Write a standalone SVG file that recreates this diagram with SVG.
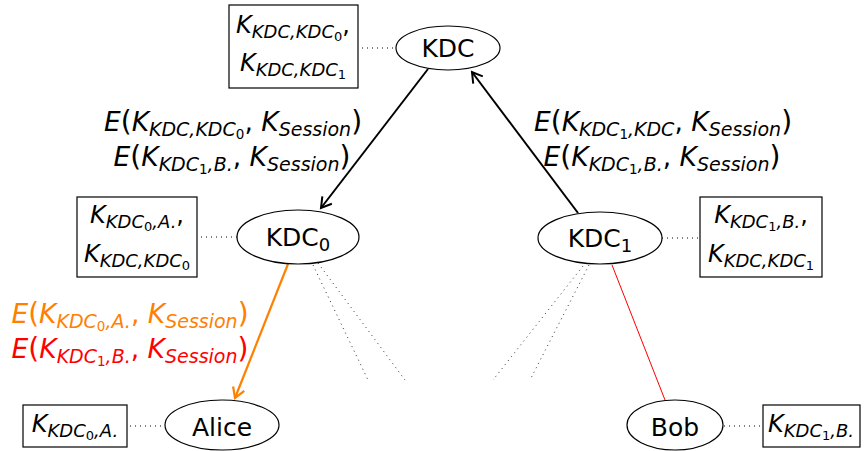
<svg xmlns="http://www.w3.org/2000/svg" width="864" height="451" viewBox="0 0 864 451">
  <style>
    text { font-family: "DejaVu Sans", "Liberation Sans", sans-serif; fill: #000; }
    .node { fill: #fff; stroke: #000; stroke-width: 1.2; }
    .box { fill: #fff; stroke: #000; stroke-width: 1.2; }
    .nl { font-size: 25px; text-anchor: middle; }
    .lbl { font-size: 26.5px; text-anchor: middle; }
    .lbl .s { font-size: 19px; }
    .lbl .ss { font-size: 13.5px; }
    .p { font-size: 28px; }
    .key { font-size: 24px; text-anchor: middle; }
    .i { font-style: italic; }
    .s { font-size: 18px; font-style: italic; }
    .ss { font-size: 13px; font-style: normal; }
    .nsub { font-size: 18px; }
    .leader { stroke: #000; stroke-width: 1; stroke-dasharray: 1 4; fill: none; }
    .hint { stroke: #333; stroke-width: 1; stroke-dasharray: 1 4; fill: none; }
    .arrow { stroke: #000; stroke-width: 2; fill: none; marker-end: url(#headBlack); }
    .arrow-orange { stroke: #ff8000; stroke-width: 2.2; fill: none; marker-end: url(#headOrange); }
    .link-red { stroke: #ff0000; stroke-width: 1; fill: none; }
    .orange { fill: #ff8000; }
    .red { fill: #ff0000; }
  </style>
  <defs>
    <marker id="headBlack" markerUnits="userSpaceOnUse" markerWidth="16" markerHeight="16" viewBox="0 0 16 16" refX="13" refY="8" orient="auto">
      <path d="M3,2 L13,8 L3,14" fill="none" stroke="#000" stroke-width="2"/>
    </marker>
    <marker id="headOrange" markerUnits="userSpaceOnUse" markerWidth="16" markerHeight="16" viewBox="0 0 16 16" refX="13" refY="8" orient="auto">
      <path d="M3,2 L13,8 L3,14" fill="none" stroke="#ff8000" stroke-width="2.2"/>
    </marker>
  </defs>

  <!-- connectors -->
  <g id="connectors">
    <!-- key holders to nodes -->
    <line class="leader" x1="362" y1="48" x2="396" y2="48"/>
    <line class="leader" x1="201" y1="237" x2="237" y2="237"/>
    <line class="leader" x1="662" y1="238" x2="698" y2="238"/>
    <line class="leader" x1="130" y1="426" x2="165" y2="426"/>
    <line class="leader" x1="724" y1="426" x2="761" y2="426"/>
    <!-- hierarchy branches -->
    <line class="arrow" x1="428" y1="69" x2="321" y2="208"/>
    <line class="arrow" x1="578" y1="213" x2="472" y2="72"/>
    <line class="arrow-orange" x1="288" y1="264" x2="235" y2="398"/>
    <line class="link-red" x1="612" y1="265" x2="665" y2="400"/>
    <!-- further subtrees -->
    <line class="hint" x1="313" y1="265" x2="368" y2="380"/>
    <line class="hint" x1="318" y1="263" x2="405" y2="380"/>
    <line class="hint" x1="583" y1="266" x2="493" y2="380"/>
    <line class="hint" x1="589" y1="265" x2="530" y2="380"/>
  </g>

  <!-- message labels -->
  <g id="labels">
    <text class="lbl" x="233" y="131"><tspan class="i">E</tspan><tspan class="p">(</tspan><tspan class="i">K</tspan><tspan class="s" dy="5">KDC,KDC</tspan><tspan class="ss" dy="3">0</tspan><tspan dy="-8">, </tspan><tspan class="i">K</tspan><tspan class="s" dy="5">Session</tspan><tspan class="p" dy="-5">)</tspan></text>
    <text class="lbl" x="232" y="166"><tspan class="i">E</tspan><tspan class="p">(</tspan><tspan class="i">K</tspan><tspan class="s" dy="5">KDC</tspan><tspan class="ss" dy="3">1</tspan><tspan class="s" dy="-3">,B.</tspan><tspan dy="-5">, </tspan><tspan class="i">K</tspan><tspan class="s" dy="5">Session</tspan><tspan class="p" dy="-5">)</tspan></text>
    <text class="lbl" x="663" y="131"><tspan class="i">E</tspan><tspan class="p">(</tspan><tspan class="i">K</tspan><tspan class="s" dy="5">KDC</tspan><tspan class="ss" dy="3">1</tspan><tspan class="s" dy="-3">,KDC</tspan><tspan dy="-5">, </tspan><tspan class="i">K</tspan><tspan class="s" dy="5">Session</tspan><tspan class="p" dy="-5">)</tspan></text>
    <text class="lbl" x="662" y="166"><tspan class="i">E</tspan><tspan class="p">(</tspan><tspan class="i">K</tspan><tspan class="s" dy="5">KDC</tspan><tspan class="ss" dy="3">1</tspan><tspan class="s" dy="-3">,B.</tspan><tspan dy="-5">, </tspan><tspan class="i">K</tspan><tspan class="s" dy="5">Session</tspan><tspan class="p" dy="-5">)</tspan></text>
    <text class="lbl orange" x="130" y="323"><tspan class="i">E</tspan><tspan class="p">(</tspan><tspan class="i">K</tspan><tspan class="s" dy="5">KDC</tspan><tspan class="ss" dy="3">0</tspan><tspan class="s" dy="-3">,A.</tspan><tspan dy="-5">, </tspan><tspan class="i">K</tspan><tspan class="s" dy="5">Session</tspan><tspan class="p" dy="-5">)</tspan></text>
    <text class="lbl red" x="130" y="358"><tspan class="i">E</tspan><tspan class="p">(</tspan><tspan class="i">K</tspan><tspan class="s" dy="5">KDC</tspan><tspan class="ss" dy="3">1</tspan><tspan class="s" dy="-3">,B.</tspan><tspan dy="-5">, </tspan><tspan class="i">K</tspan><tspan class="s" dy="5">Session</tspan><tspan class="p" dy="-5">)</tspan></text>
  </g>

  <!-- KDC -->
  <g id="kdc">
    <ellipse class="node" cx="448" cy="48" rx="52" ry="22"/>
    <text class="nl" x="448" y="57">KDC</text>
  </g>
  <g id="kdc-keys">
    <rect class="box" x="229" y="5" width="129" height="83"/>
    <text class="key" x="293" y="33"><tspan class="i">K</tspan><tspan class="s" dy="5">KDC,KDC</tspan><tspan class="ss" dy="3">0</tspan><tspan dy="-8">,</tspan></text>
    <text class="key" x="293" y="71"><tspan class="i">K</tspan><tspan class="s" dy="5">KDC,KDC</tspan><tspan class="ss" dy="3">1</tspan></text>
  </g>

  <!-- KDC0 -->
  <g id="kdc0">
    <ellipse class="node" cx="298" cy="237" rx="61" ry="27"/>
    <text class="nl" x="298" y="246">KDC<tspan class="nsub" dy="5">0</tspan></text>
  </g>
  <g id="kdc0-keys">
    <rect class="box" x="77" y="197" width="120" height="80"/>
    <text class="key" x="137" y="223"><tspan class="i">K</tspan><tspan class="s" dy="5">KDC</tspan><tspan class="ss" dy="3">0</tspan><tspan class="s" dy="-3">,A.</tspan><tspan dy="-5">,</tspan></text>
    <text class="key" x="137" y="262"><tspan class="i">K</tspan><tspan class="s" dy="5">KDC,KDC</tspan><tspan class="ss" dy="3">0</tspan></text>
  </g>

  <!-- KDC1 -->
  <g id="kdc1">
    <ellipse class="node" cx="600" cy="238" rx="62" ry="26"/>
    <text class="nl" x="600" y="247">KDC<tspan class="nsub" dy="5">1</tspan></text>
  </g>
  <g id="kdc1-keys">
    <rect class="box" x="700" y="197" width="122" height="80"/>
    <text class="key" x="761" y="223"><tspan class="i">K</tspan><tspan class="s" dy="5">KDC</tspan><tspan class="ss" dy="3">1</tspan><tspan class="s" dy="-3">,B.</tspan><tspan dy="-5">,</tspan></text>
    <text class="key" x="761" y="262"><tspan class="i">K</tspan><tspan class="s" dy="5">KDC,KDC</tspan><tspan class="ss" dy="3">1</tspan></text>
  </g>

  <!-- Alice -->
  <g id="alice">
    <ellipse class="node" cx="222" cy="425" rx="57" ry="25"/>
    <text class="nl" x="222" y="436">Alice</text>
  </g>
  <g id="alice-keys">
    <rect class="box" x="23" y="405" width="104" height="42"/>
    <text class="key" x="75" y="432"><tspan class="i">K</tspan><tspan class="s" dy="5">KDC</tspan><tspan class="ss" dy="3">0</tspan><tspan class="s" dy="-3">,A.</tspan></text>
  </g>

  <!-- Bob -->
  <g id="bob">
    <ellipse class="node" cx="675" cy="425" rx="48" ry="25"/>
    <text class="nl" x="675" y="436">Bob</text>
  </g>
  <g id="bob-keys">
    <rect class="box" x="763" y="405" width="97" height="42"/>
    <text class="key" x="811" y="432"><tspan class="i">K</tspan><tspan class="s" dy="5">KDC</tspan><tspan class="ss" dy="3">1</tspan><tspan class="s" dy="-3">,B.</tspan></text>
  </g>
</svg>
